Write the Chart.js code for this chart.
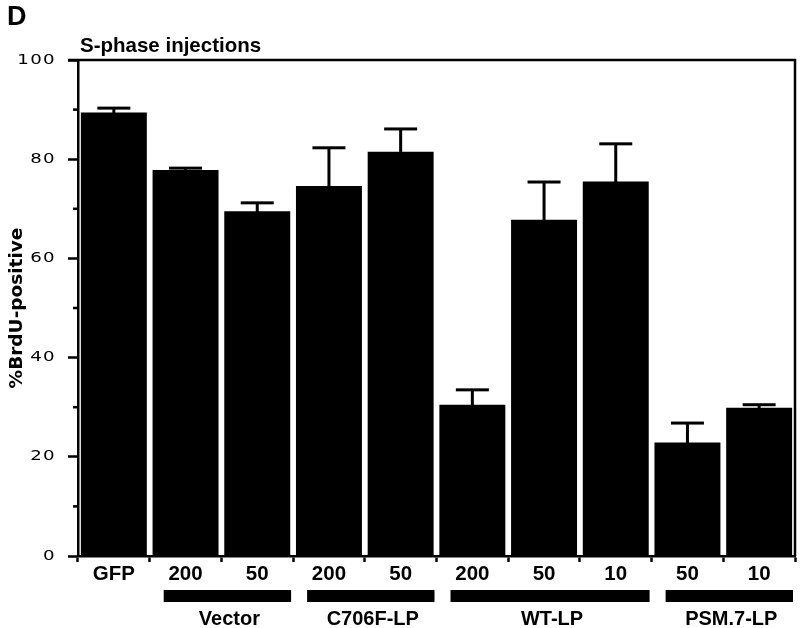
<!DOCTYPE html>
<html>
<head>
<meta charset="utf-8">
<script src="https://cdn.jsdelivr.net/npm/chart.js@4/dist/chart.umd.min.js"></script>
<style>
  html, body { margin: 0; padding: 0; background: #fff; }
  #wrap { width: 800px; height: 628px; position: relative; }
</style>
</head>
<body>
<div id="wrap"><canvas id="c" width="800" height="628"></canvas></div>
<script>
// ---- data ----
const categories = ['GFP', '200', '50', '200', '50', '200', '50', '10', '50', '10'];
const values     = [89.4, 77.8, 69.5, 74.6, 81.5, 30.5, 67.8, 75.5, 22.9, 29.9];
const errorTop   = [90.3, 78.2, 71.2, 82.3, 86.1, 33.5, 75.4, 83.1, 26.8, 30.5];
const groupLabels = ['Vector', 'C706F-LP', 'WT-LP', 'PSM.7-LP'];
const groupFirst  = [1, 3, 5, 8];
const groupLast   = [2, 4, 7, 9];
const yMajorTicks = [0, 20, 40, 60, 80, 100];
const yMinorTicks = [10, 30, 50, 70, 90];
const panelLetter = 'D';
const panelTitle = 'S-phase injections';
const yTitle = '%BrdU-positive';

const INK = '#000';
const LW = 2.5;
const Y_TICK_PAD = 12;
const Y_TICK_LEN = 10;
const Y_LABEL_STRETCH = 1.3;

const extras = {
  id: 'extras',
  beforeDraw(chart) {
    const ys = chart.scales.y;
    if (ys && !ys._lsPatched) {
      const orig = ys.drawLabels.bind(ys);
      ys.drawLabels = function (ca) {
        const ctx = chart.ctx;
        const ax = ys.right - Y_TICK_LEN - Y_TICK_PAD;
        ctx.save();
        ctx.letterSpacing = '1px';
        ctx.setTransform(Y_LABEL_STRETCH, 0, 0, 1, (1 - Y_LABEL_STRETCH) * ax, 0);
        orig(ca);
        ctx.restore();
      };
      ys._lsPatched = true;
    }
  },
  afterDatasetsDraw(chart) {
    const ctx = chart.ctx;
    const ys = chart.scales.y;
    const meta = chart.getDatasetMeta(0);
    ctx.save();
    ctx.fillStyle = INK;
    meta.data.forEach((bar, i) => {
      const x = bar.x;
      const yTop = ys.getPixelForValue(errorTop[i]);
      const yBar = ys.getPixelForValue(values[i]);
      ctx.fillRect(x - 1.5, yTop, 3, yBar - yTop + 1);
      ctx.fillRect(x - 16.5, yTop - 1.5, 33, 3);
    });
    ctx.restore();
  },
  afterDraw(chart) {
    const ctx = chart.ctx;
    const ca = chart.chartArea;
    const xs = chart.scales.x;
    const ys = chart.scales.y;
    ctx.save();
    ctx.strokeStyle = INK;
    ctx.fillStyle = INK;
    ctx.lineWidth = LW;
    ctx.beginPath();
    ctx.moveTo(ca.left - 10, ca.top);
    ctx.lineTo(ca.right, ca.top);
    ctx.lineTo(ca.right, ca.bottom);
    ctx.stroke();
    yMinorTicks.forEach(v => {
      const y = ys.getPixelForValue(v);
      ctx.beginPath();
      ctx.moveTo(ca.left - 5, y);
      ctx.lineTo(ca.left, y);
      ctx.stroke();
    });
    const cw = xs.getPixelForValue(1) - xs.getPixelForValue(0);
    ctx.font = 'bold 20px "Liberation Sans", Arial, sans-serif';
    ctx.textAlign = 'center';
    ctx.textBaseline = 'alphabetic';
    groupLabels.forEach((lab, g) => {
      const l = xs.getPixelForValue(groupFirst[g]) - cw / 2 + 14;
      const r = xs.getPixelForValue(groupLast[g]) + cw / 2 - 2;
      ctx.fillRect(l, 590, r - l, 12);
      ctx.fillText(lab, (l + r) / 2 + 2, 625);
    });
    ctx.textAlign = 'left';
    ctx.font = 'bold 27px "Liberation Sans", Arial, sans-serif';
    ctx.fillText(panelLetter, 7, 25);
    ctx.font = 'bold 20.5px "Liberation Sans", Arial, sans-serif';
    ctx.fillText(panelTitle, 80, 52);
    ctx.restore();
  }
};

new Chart(document.getElementById('c'), {
  type: 'bar',
  data: {
    labels: categories,
    datasets: [{
      data: values,
      backgroundColor: INK,
      borderWidth: 0,
      barPercentage: 0.92,
      categoryPercentage: 1.0
    }]
  },
  options: {
    responsive: false,
    devicePixelRatio: 1,
    animation: false,
    layout: { padding: { top: 60, right: 5, left: 0, bottom: 0 } },
    plugins: { legend: { display: false }, tooltip: { enabled: false }, title: { display: false } },
    scales: {
      x: {
        offset: true,
        grid: { offset: true, drawOnChartArea: false, drawTicks: true, tickLength: 6, tickWidth: LW, tickColor: INK },
        border: { display: true, color: INK, width: LW },
        ticks: {
          color: INK,
          padding: 0,
          maxRotation: 0,
          autoSkip: false,
          font: { family: '"Liberation Sans", Arial, sans-serif', size: 20.5, weight: 'bold' }
        },
        afterFit(s) { s.height = 72; }
      },
      y: {
        min: 0,
        max: 100,
        afterBuildTicks(s) { s.ticks = yMajorTicks.map(v => ({ value: v })); },
        grid: { drawOnChartArea: false, drawTicks: true, tickLength: Y_TICK_LEN, tickWidth: LW, tickColor: INK },
        border: { display: true, color: INK, width: LW },
        ticks: {
          color: INK,
          padding: Y_TICK_PAD,
          font: { family: '"DejaVu Sans", sans-serif', size: 14 }
        },
        title: {
          display: true,
          text: yTitle,
          color: INK,
          padding: { top: 6, bottom: 0 },
          font: { family: '"DejaVu Sans", sans-serif', size: 18.5, weight: 'bold' }
        },
        afterFit(s) { s.width = 78; }
      }
    }
  },
  plugins: [extras]
});
</script>
</body>
</html>
